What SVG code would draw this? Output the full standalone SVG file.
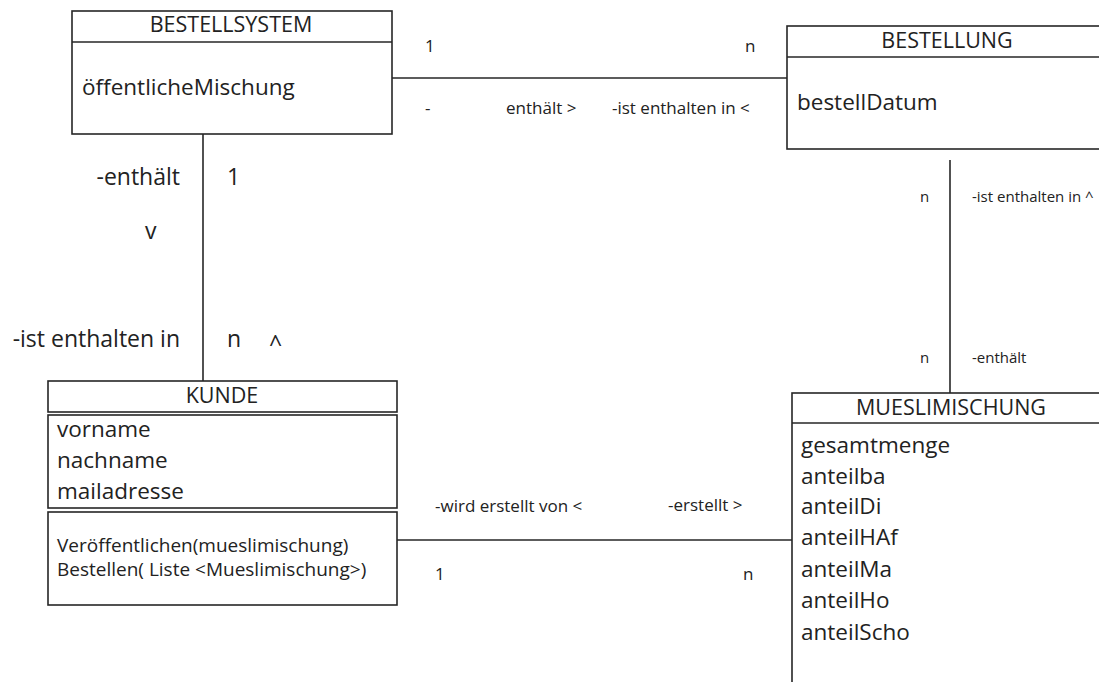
<svg xmlns="http://www.w3.org/2000/svg" width="1099" height="682" viewBox="0 0 1099 682">
  <style>
    .box { fill: #ffffff; stroke: #262626; stroke-width: 1.6; }
    .sep { stroke: #262626; stroke-width: 1.6; }
    .conn { stroke: #262626; stroke-width: 1.6; fill: none; }
    text { font-family: "Open Sans", "Liberation Sans", sans-serif; fill: #222222; }
    .title { font-size: 21.5px; text-anchor: middle; }
    .attr { font-size: 22.5px; }
    .method { font-size: 19px; }
    .lbl { font-size: 17px; }
    .lbl-big { font-size: 23px; }
    .lbl-small { font-size: 15px; }
  </style>
  <rect width="1099" height="682" fill="#ffffff"/>

  <!-- associations -->
  <g id="connectors">
    <line class="conn" x1="392" y1="78" x2="787" y2="78"/>
    <line class="conn" x1="203" y1="134" x2="203" y2="381"/>
    <line class="conn" x1="950" y1="160" x2="950" y2="393"/>
    <line class="conn" x1="397" y1="540" x2="792" y2="540"/>

    <!-- BESTELLSYSTEM - BESTELLUNG -->
    <text class="lbl" x="425" y="52">1</text>
    <text class="lbl" x="745" y="52">n</text>
    <text class="lbl" x="425" y="114">-</text>
    <text class="lbl" x="506" y="114">enthält &gt;</text>
    <text class="lbl" x="612" y="114">-ist enthalten in &lt;</text>

    <!-- BESTELLSYSTEM - KUNDE -->
    <text class="lbl-big" x="180" y="185" text-anchor="end">-enthält</text>
    <text class="lbl-big" x="227" y="185">1</text>
    <text class="lbl-big" x="145" y="239">v</text>
    <text class="lbl-big" x="180" y="347" text-anchor="end">-ist enthalten in</text>
    <text class="lbl-big" x="227" y="347">n</text>
    <text class="lbl-big" x="269" y="352">^</text>

    <!-- BESTELLUNG - MUESLIMISCHUNG -->
    <text class="lbl-small" x="920" y="202">n</text>
    <text class="lbl-small" x="972" y="202">-ist enthalten in ^</text>
    <text class="lbl-small" x="920" y="363">n</text>
    <text class="lbl-small" x="972" y="363">-enthält</text>

    <!-- KUNDE - MUESLIMISCHUNG -->
    <text class="lbl" x="435" y="512">-wird erstellt von &lt;</text>
    <text class="lbl" x="668" y="511">-erstellt &gt;</text>
    <text class="lbl" x="435" y="580">1</text>
    <text class="lbl" x="743" y="580">n</text>
  </g>

  <g id="bestellsystem">
    <rect class="box" x="72" y="11" width="320" height="123"/>
    <line class="sep" x1="72" y1="42" x2="392" y2="42"/>
    <text class="title" x="231" y="32">BESTELLSYSTEM</text>
    <text class="attr" x="82" y="95">öffentlicheMischung</text>
  </g>

  <g id="bestellung">
    <rect class="box" x="787" y="26" width="320" height="123"/>
    <line class="sep" x1="787" y1="57" x2="1107" y2="57"/>
    <text class="title" x="947" y="48">BESTELLUNG</text>
    <text class="attr" x="797" y="110">bestellDatum</text>
  </g>

  <g id="kunde">
    <rect class="box" x="48" y="381" width="349" height="31"/>
    <rect class="box" x="48" y="415" width="349" height="93"/>
    <rect class="box" x="48" y="512" width="349" height="93"/>
    <text class="title" x="222" y="403">KUNDE</text>
    <text class="attr" x="57" y="437">vorname</text>
    <text class="attr" x="57" y="468">nachname</text>
    <text class="attr" x="57" y="499">mailadresse</text>
    <text class="method" x="57" y="552">Veröffentlichen(mueslimischung)</text>
    <text class="method" x="57" y="576">Bestellen( Liste &lt;Mueslimischung&gt;)</text>
  </g>

  <g id="mueslimischung">
    <rect class="box" x="792" y="393" width="318" height="300"/>
    <line class="sep" x1="792" y1="423" x2="1110" y2="423"/>
    <text class="title" x="951" y="415">MUESLIMISCHUNG</text>
    <text class="attr" x="801" y="453">gesamtmenge</text>
    <text class="attr" x="801" y="484">anteilba</text>
    <text class="attr" x="801" y="514">anteilDi</text>
    <text class="attr" x="801" y="545">anteilHAf</text>
    <text class="attr" x="801" y="577">anteilMa</text>
    <text class="attr" x="801" y="608">anteilHo</text>
    <text class="attr" x="801" y="640">anteilScho</text>
  </g>
</svg>
